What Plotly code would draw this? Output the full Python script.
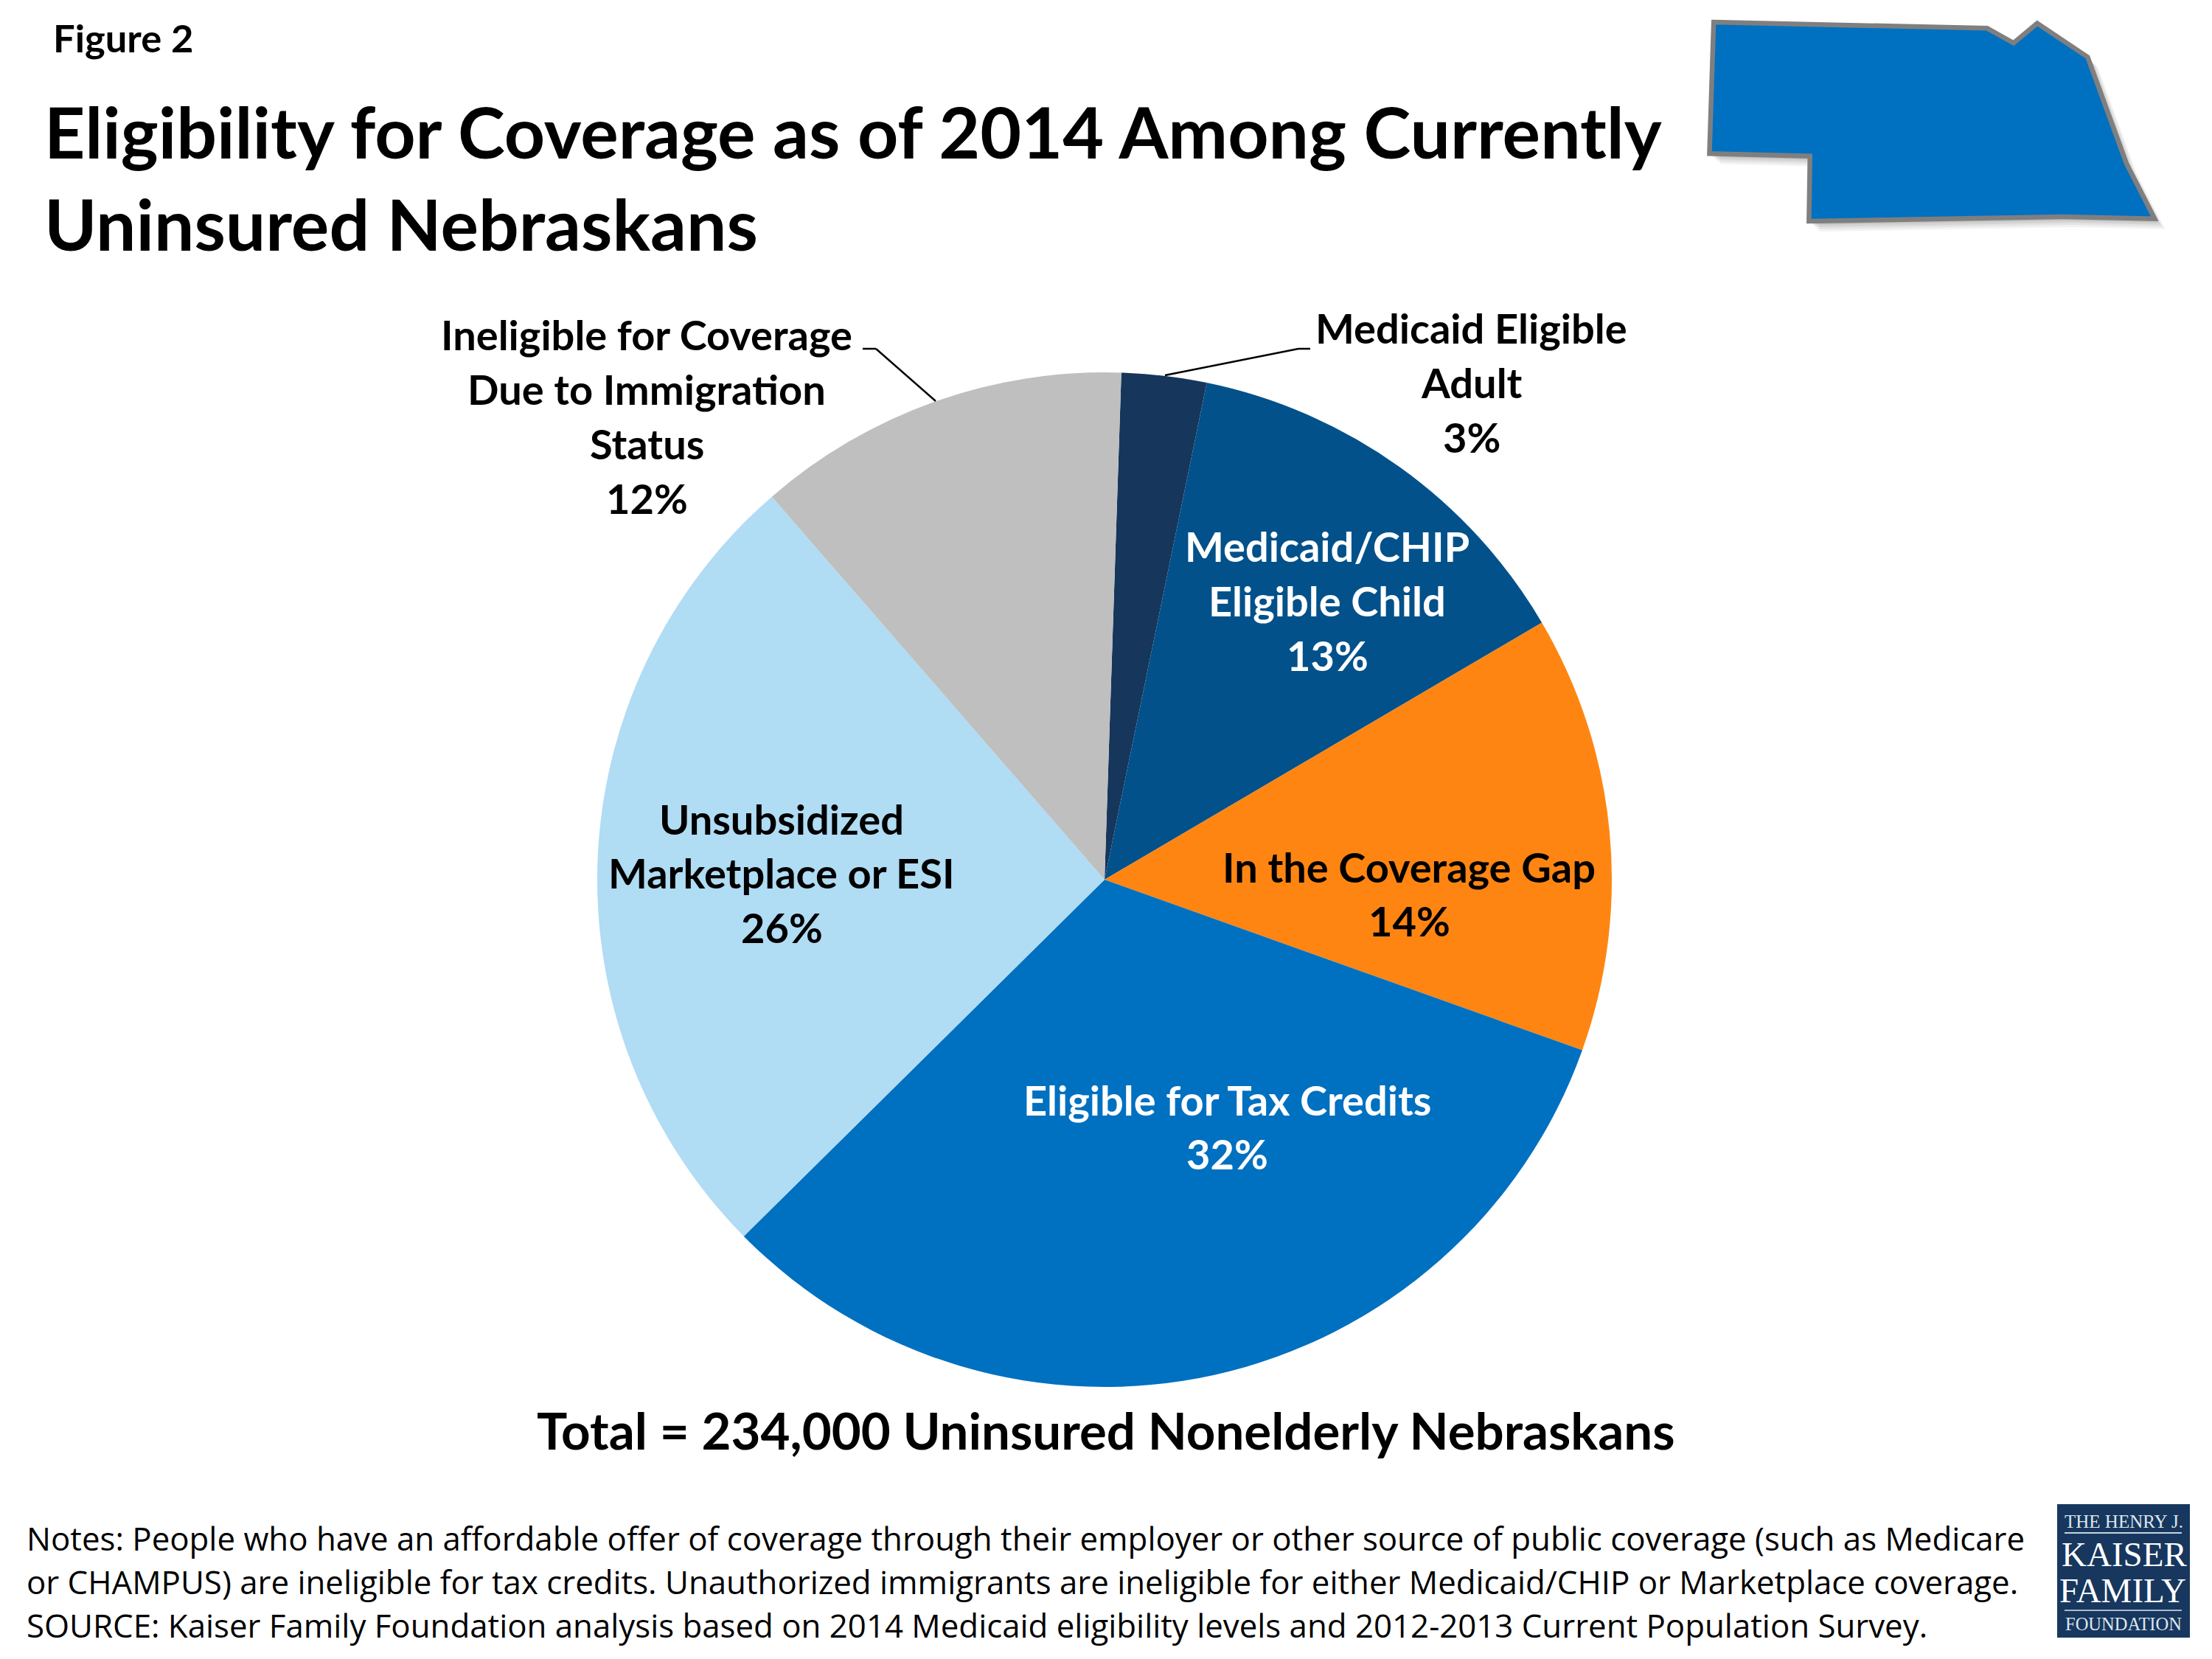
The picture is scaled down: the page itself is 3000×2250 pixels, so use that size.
import plotly.graph_objects as go

W, H = 3000, 2250
PAGE = 8  # the page's body margin
def px(x): return (x - PAGE) / W
def py(y): return 1 - (y - PAGE) / H

categories = ["Medicaid Eligible Adult", "Medicaid/CHIP Eligible Child", "In the Coverage Gap",
              "Eligible for Tax Credits", "Unsubsidized Marketplace or ESI",
              "Ineligible for Coverage Due to Immigration Status"]
shares = [2.7, 13.3, 13.9, 32.1, 26.0, 11.9]
colors = ["#16365C", "#03518A", "#FF8512", "#0070C0", "#B0DCF4", "#BFBFBF"]
label_lines = [
    ["Medicaid Eligible", "Adult", "3%"],
    ["Medicaid/CHIP", "Eligible Child", "13%"],
    ["In the Coverage Gap", "14%"],
    ["Eligible for Tax Credits", "32%"],
    ["Unsubsidized", "Marketplace or ESI", "26%"],
    ["Ineligible for Coverage", "Due to Immigration", "Status", "12%"],
]

CX, CY, R = 1498, 1193, 688
fig = go.Figure(go.Pie(
    labels=categories, values=shares, sort=False, direction="clockwise", rotation=1.9,
    marker=dict(colors=colors, line=dict(width=0)), textinfo="none", hoverinfo="label+percent",
    showlegend=False,
    domain=dict(x=[px(CX - R), px(CX + R)], y=[py(CY + R), py(CY - R)]),
))

FONT = "Lato"
anns = []
def text(x, y, s, size, color="black", bold=True, anchor="center", family=FONT):
    if bold:
        s = "<b>" + s + "</b>"
    anns.append(dict(xref="paper", yref="paper", x=px(x), y=py(y), text=s, showarrow=False,
                     xanchor=anchor, yanchor="middle", align=anchor,
                     font=dict(family=family, size=size, color=color)))

text(70, 51, "Figure 2", 52.5, anchor="left")
text(58, 178, "Eligibility for Coverage as of 2014 Among Currently", 96.5, anchor="left")
text(58, 303, "Uninsured Nebraskans", 96.5, anchor="left")

LS, STEP = 56, 73.7
label_pos = [(1996, 445, "black"), (1800, 741, "white"), (1911, 1175, "black"),
             (1664, 1491, "white"), (1060, 1110, "black"), (877, 454, "black")]
for lines, (x, y0, c) in zip(label_lines, label_pos):
    for i, line in enumerate(lines):
        text(x, y0 + i * STEP, line, LS, c)

text(1500, 1939, "Total = 234,000 Uninsured Nonelderly Nebraskans", 69)

notes = ["Notes: People who have an affordable offer of coverage through their employer or other source of public coverage (such as Medicare",
         "or CHAMPUS) are ineligible for tax credits. Unauthorized immigrants are ineligible for either Medicaid/CHIP or Marketplace coverage.",
         "SOURCE: Kaiser Family Foundation analysis based on 2014 Medicaid eligibility levels and 2012-2013 Current Population Survey."]
for i, n in enumerate(notes):
    text(34, 2086 + i * 59, n, 43.8, bold=False, anchor="left", family="Open Sans")

# logo
SERIF = "Liberation Serif"
text(2880, 2063, "THE HENRY J.", 25, "#dde6ee", bold=False, family=SERIF)
text(2881, 2108, "KAISER", 47, "white", bold=False, family=SERIF)
text(2879, 2157, "FAMILY", 47, "white", bold=False, family=SERIF)
text(2880, 2202, "FOUNDATION", 24.5, "#dde6ee", bold=False, family=SERIF)

def path(pts):
    return "M " + " L ".join(f"{px(x):.5f},{py(y):.5f}" for x, y in pts) + " Z"

map_pts = [(155,90),(930,115),(1005,175),(1072,95),(1215,232),(1325,665),(1405,890),(1150,882),(425,900),(428,635),(143,625)]
map_px = [(2250 + x / 2.09, y / 3) for x, y in map_pts]
shapes = []
for off, op in [(14, .10), (11, .12), (8, .16), (5, .20)]:
    shapes.append(dict(type="path", xref="paper", yref="paper",
                       path=path([(x + off, y + off) for x, y in map_px]),
                       fillcolor="#808080", opacity=op, line=dict(width=0)))
shapes.append(dict(type="path", xref="paper", yref="paper", path=path(map_px),
                   fillcolor="#0070C0", line=dict(color="#7F7F7F", width=6.5)))
shapes.append(dict(type="rect", xref="paper", yref="paper", x0=px(2790), x1=px(2970), y0=py(2221), y1=py(2040),
                   fillcolor="#17375E", line=dict(width=0), layer="below"))
for y, c in [(2079, "#c8d4e0"), (2184, "#a9b8c8")]:
    shapes.append(dict(type="line", xref="paper", yref="paper", x0=px(2800), x1=px(2959), y0=py(y), y1=py(y),
                       line=dict(color=c, width=2)))
def poly(pts):
    for (a, b), (c, d) in zip(pts, pts[1:]):
        shapes.append(dict(type="line", xref="paper", yref="paper", x0=px(a), y0=py(b), x1=px(c), y1=py(d),
                           line=dict(color="black", width=2.5)))
poly([(1170, 473), (1188, 473), (1269, 544)])
poly([(1580, 509), (1761, 473), (1777, 473)])

fig.update_layout(width=W, height=H, margin=dict(l=0, r=0, t=0, b=0), paper_bgcolor="white",
                  annotations=anns, shapes=shapes)
fig.write_html("out.html")
